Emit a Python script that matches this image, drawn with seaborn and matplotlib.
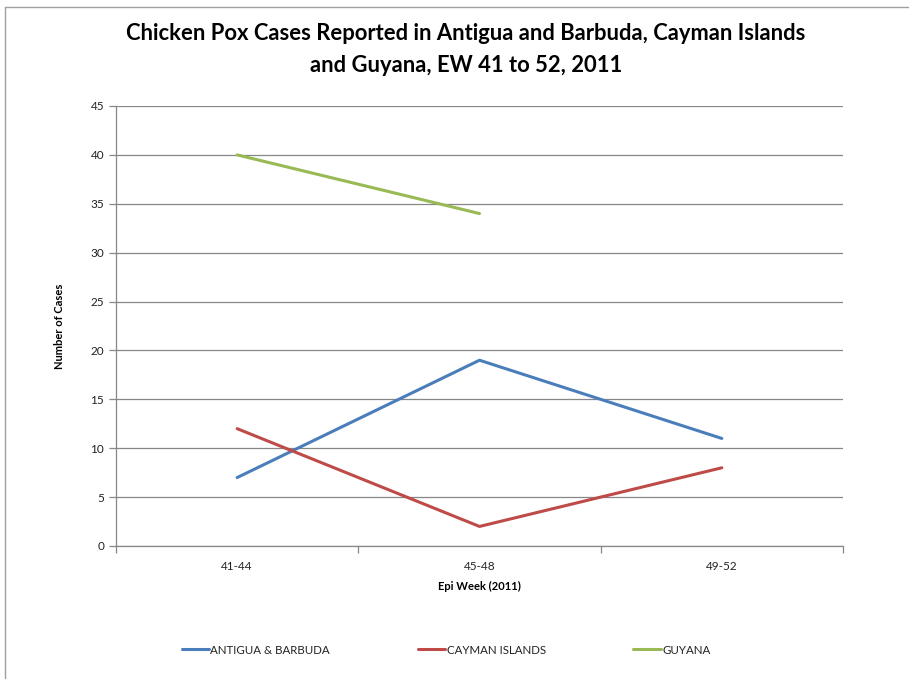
import numpy as np
import pandas as pd
import matplotlib
matplotlib.use("Agg")
import matplotlib.pyplot as plt
import seaborn as sns
from matplotlib.lines import Line2D

weeks = ["41-44", "45-48", "49-52"]
antigua = [7, 19, 11]
cayman = [12, 2, 8]
guyana = [40, 34, np.nan]
series_names = ["ANTIGUA & BARBUDA", "CAYMAN ISLANDS", "GUYANA"]
colors = ["#4A7EBB", "#BE4B48", "#98B954"]

rows = []
for name, vals in zip(series_names, [antigua, cayman, guyana]):
    for i, (w, v) in enumerate(zip(weeks, vals)):
        if not np.isnan(v):
            rows.append({"idx": i, "week": w, "cases": v, "series": name})
df = pd.DataFrame(rows)

sns.set_theme(style="white")
plt.rcParams['font.family'] = ['Lato', 'DejaVu Sans']

fig = plt.figure(figsize=(9.09, 6.79), dpi=100)
ax = fig.add_axes([116/909, 1-546/679, (843-116)/909, (546-106)/679])

sns.lineplot(data=df, x="idx", y="cases", hue="series", hue_order=series_names,
             palette=colors, linewidth=2.2, ax=ax, legend=False)

ax.set_xlim(-0.5, 2.5)
ax.set_ylim(0, 45)
ax.set_yticks(np.arange(0, 46, 5))
ax.yaxis.grid(True, color="#878787", linewidth=0.9)
ax.set_axisbelow(True)
ax.set_xticks(range(len(weeks)))
ax.set_xticklabels(weeks)
ax.set_xticks([-0.5, 0.5, 1.5, 2.5], minor=True)
ax.tick_params(axis="x", which="major", length=0, labelsize=8.5, pad=11, colors="#222222")
ax.tick_params(axis="x", which="minor", length=5, width=0.9, color="#878787", direction="out", bottom=True)
ax.tick_params(axis="y", length=5, width=0.9, color="#878787", direction="out", left=True, labelsize=8.5, labelcolor="#222222")
for s in ["top", "right"]:
    ax.spines[s].set_visible(False)
for s in ["left", "bottom"]:
    ax.spines[s].set_color("#878787")
    ax.spines[s].set_linewidth(0.9)

ax.set_xlabel("Epi Week (2011)", fontsize=8, fontweight="bold", labelpad=6, color="black")
ax.set_ylabel("Number of Cases", fontsize=8, fontweight="bold", labelpad=18, color="black")

fig.text(466/909, 1-34/679, "Chicken Pox Cases Reported in Antigua and Barbuda, Cayman Islands",
         ha="center", va="center", fontsize=15.8, fontweight="bold", color="black")
fig.text(466/909, 1-66/679, "and Guyana, EW 41 to 52, 2011",
         ha="center", va="center", fontsize=15.8, fontweight="bold", color="black")

handles = [Line2D([0], [0], color=c, linewidth=2.2) for c in colors]
fig.legend(handles, series_names, loc="center", bbox_to_anchor=(446/909, 1-650/679),
           ncol=3, frameon=False, fontsize=8.3, handlelength=2.4, handletextpad=0.1,
           columnspacing=7.6, labelcolor="#222222")

# outer chart border (left and top)
fig.add_artist(Line2D([5/909, 5/909], [0, 1-7/679], transform=fig.transFigure, color="#A0A0A0", linewidth=1))
fig.add_artist(Line2D([5/909, 1], [1-7/679, 1-7/679], transform=fig.transFigure, color="#A0A0A0", linewidth=1))

fig.savefig("out.png", dpi=100, facecolor="white")
